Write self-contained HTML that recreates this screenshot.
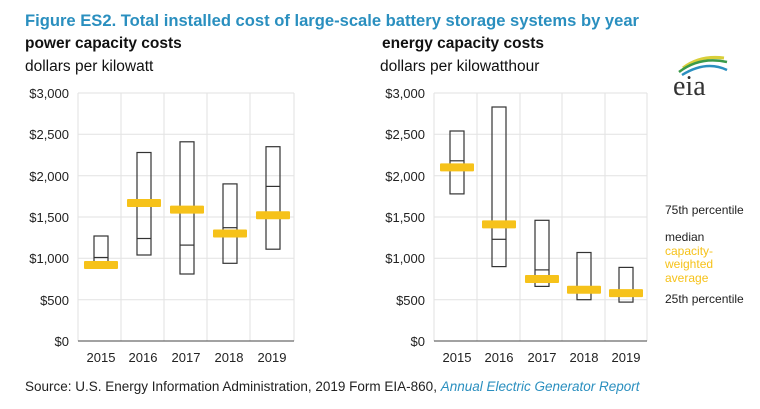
<!DOCTYPE html>
<html><head><meta charset="utf-8"><style>
body{margin:0;background:#fff;width:760px;height:409px;overflow:hidden}
svg{display:block}
.t{font-family:"Liberation Sans",sans-serif;font-size:13px;fill:#222}
.c{font-family:"Liberation Sans",sans-serif}
</style></head><body>
<svg width="760" height="409" xmlns="http://www.w3.org/2000/svg">
<text x="25" y="26" class="c" font-size="17" font-weight="bold" fill="#2a8fbf" textLength="614" lengthAdjust="spacingAndGlyphs">Figure ES2. Total installed cost of large-scale battery storage systems by year</text>
<text x="25" y="48" class="c" font-size="15.5" font-weight="bold" fill="#111">power capacity costs</text>
<text x="25" y="71" class="c" font-size="15.5" fill="#111">dollars per kilowatt</text>
<text x="382" y="48" class="c" font-size="15.5" font-weight="bold" fill="#111">energy capacity costs</text>
<text x="380" y="71" class="c" font-size="15.5" fill="#111">dollars per kilowatthour</text>
<!-- eia logo -->
<path d="M683 68 Q700 55 724 58" stroke="#d9cf3a" stroke-width="3" fill="none"/>
<path d="M679 72 Q700 56 727 62" stroke="#3a9a4a" stroke-width="2.5" fill="none"/>
<path d="M682 75 Q706 60 727 70" stroke="#2a8fbf" stroke-width="2.5" fill="none"/>
<text x="673" y="95" font-family="Liberation Serif,serif" font-size="28" fill="#333">eia</text>
<g stroke="#e2e2e2" stroke-width="1">
<line x1="78" y1="93" x2="294" y2="93"/><line x1="78" y1="134.3" x2="294" y2="134.3"/><line x1="78" y1="175.7" x2="294" y2="175.7"/><line x1="78" y1="217" x2="294" y2="217"/><line x1="78" y1="258.3" x2="294" y2="258.3"/><line x1="78" y1="299.7" x2="294" y2="299.7"/>
<line x1="78" y1="93" x2="78" y2="341"/><line x1="121" y1="93" x2="121" y2="341"/><line x1="164" y1="93" x2="164" y2="341"/><line x1="207" y1="93" x2="207" y2="341"/><line x1="250" y1="93" x2="250" y2="341"/><line x1="294" y1="93" x2="294" y2="341"/>
<line x1="434" y1="93" x2="647" y2="93"/><line x1="434" y1="134.3" x2="647" y2="134.3"/><line x1="434" y1="175.7" x2="647" y2="175.7"/><line x1="434" y1="217" x2="647" y2="217"/><line x1="434" y1="258.3" x2="647" y2="258.3"/><line x1="434" y1="299.7" x2="647" y2="299.7"/>
<line x1="434" y1="93" x2="434" y2="341"/><line x1="477" y1="93" x2="477" y2="341"/><line x1="520" y1="93" x2="520" y2="341"/><line x1="562" y1="93" x2="562" y2="341"/><line x1="605" y1="93" x2="605" y2="341"/><line x1="647" y1="93" x2="647" y2="341"/>
</g>
<line x1="78" y1="341" x2="294" y2="341" stroke="#444"/>
<line x1="434" y1="341" x2="647" y2="341" stroke="#444"/>
<g class="t" text-anchor="end">
<text x="69" y="98">$3,000</text><text x="69" y="139">$2,500</text><text x="69" y="181">$2,000</text><text x="69" y="222">$1,500</text><text x="69" y="263">$1,000</text><text x="69" y="305">$500</text><text x="69" y="346">$0</text>
<text x="425" y="98">$3,000</text><text x="425" y="139">$2,500</text><text x="425" y="181">$2,000</text><text x="425" y="222">$1,500</text><text x="425" y="263">$1,000</text><text x="425" y="305">$500</text><text x="425" y="346">$0</text>
</g>
<g class="t" text-anchor="middle">
<text x="101" y="362">2015</text><text x="143" y="362">2016</text><text x="186" y="362">2017</text><text x="229" y="362">2018</text><text x="272" y="362">2019</text>
<text x="457" y="362">2015</text><text x="499" y="362">2016</text><text x="542" y="362">2017</text><text x="584" y="362">2018</text><text x="626" y="362">2019</text>
</g>
<g fill="none" stroke="#333" stroke-width="1.2">
<rect x="94" y="236" width="14" height="29.8"/><line x1="94" y1="257.5" x2="108" y2="257.5"/>
<rect x="137" y="152.5" width="14" height="102.5"/><line x1="137" y1="238.5" x2="151" y2="238.5"/>
<rect x="180" y="141.8" width="14" height="132.2"/><line x1="180" y1="245.1" x2="194" y2="245.1"/>
<rect x="223" y="183.9" width="14" height="79.4"/><line x1="223" y1="227.7" x2="237" y2="227.7"/>
<rect x="266" y="146.7" width="14" height="102.5"/><line x1="266" y1="186.4" x2="280" y2="186.4"/>
<rect x="450" y="131" width="14" height="62.9"/><line x1="450" y1="160.8" x2="464" y2="160.8"/>
<rect x="492" y="107" width="14" height="159.6"/><line x1="492" y1="239.3" x2="506" y2="239.3"/>
<rect x="535" y="220.3" width="14" height="66.1"/><line x1="535" y1="269.9" x2="549" y2="269.9"/>
<rect x="577" y="252.5" width="14" height="47.2"/>
<rect x="619" y="267.4" width="14" height="34.7"/>
</g>
<g fill="#f6c21a">
<rect x="84" y="261" width="34" height="8" rx="1"/>
<rect x="127" y="199" width="34" height="8" rx="1"/>
<rect x="170" y="205.6" width="34" height="8" rx="1"/>
<rect x="213" y="229.5" width="34" height="8" rx="1"/>
<rect x="256" y="211.3" width="34" height="8" rx="1"/>
<rect x="440" y="163.4" width="34" height="8" rx="1"/>
<rect x="482" y="220.4" width="34" height="8" rx="1"/>
<rect x="525" y="275" width="34" height="8" rx="1"/>
<rect x="567" y="285.7" width="34" height="8" rx="1"/>
<rect x="609" y="289.1" width="34" height="8" rx="1"/>
</g>
<g class="c" font-size="12">
<text x="665" y="214" fill="#222">75th percentile</text>
<text x="665" y="241" fill="#222">median</text>
<text x="665" y="255" fill="#f6c21a">capacity-</text>
<text x="665" y="268" fill="#f6c21a">weighted</text>
<text x="665" y="282" fill="#f6c21a">average</text>
<text x="665" y="303" fill="#222">25th percentile</text>
</g>
<text x="25" y="391" font-family="Liberation Sans,sans-serif" font-size="13.5" fill="#222">Source: U.S. Energy Information Administration, 2019 Form EIA-860, <tspan font-style="italic" fill="#2a8fbf">Annual Electric Generator Report</tspan></text>
</svg>
</body></html>
